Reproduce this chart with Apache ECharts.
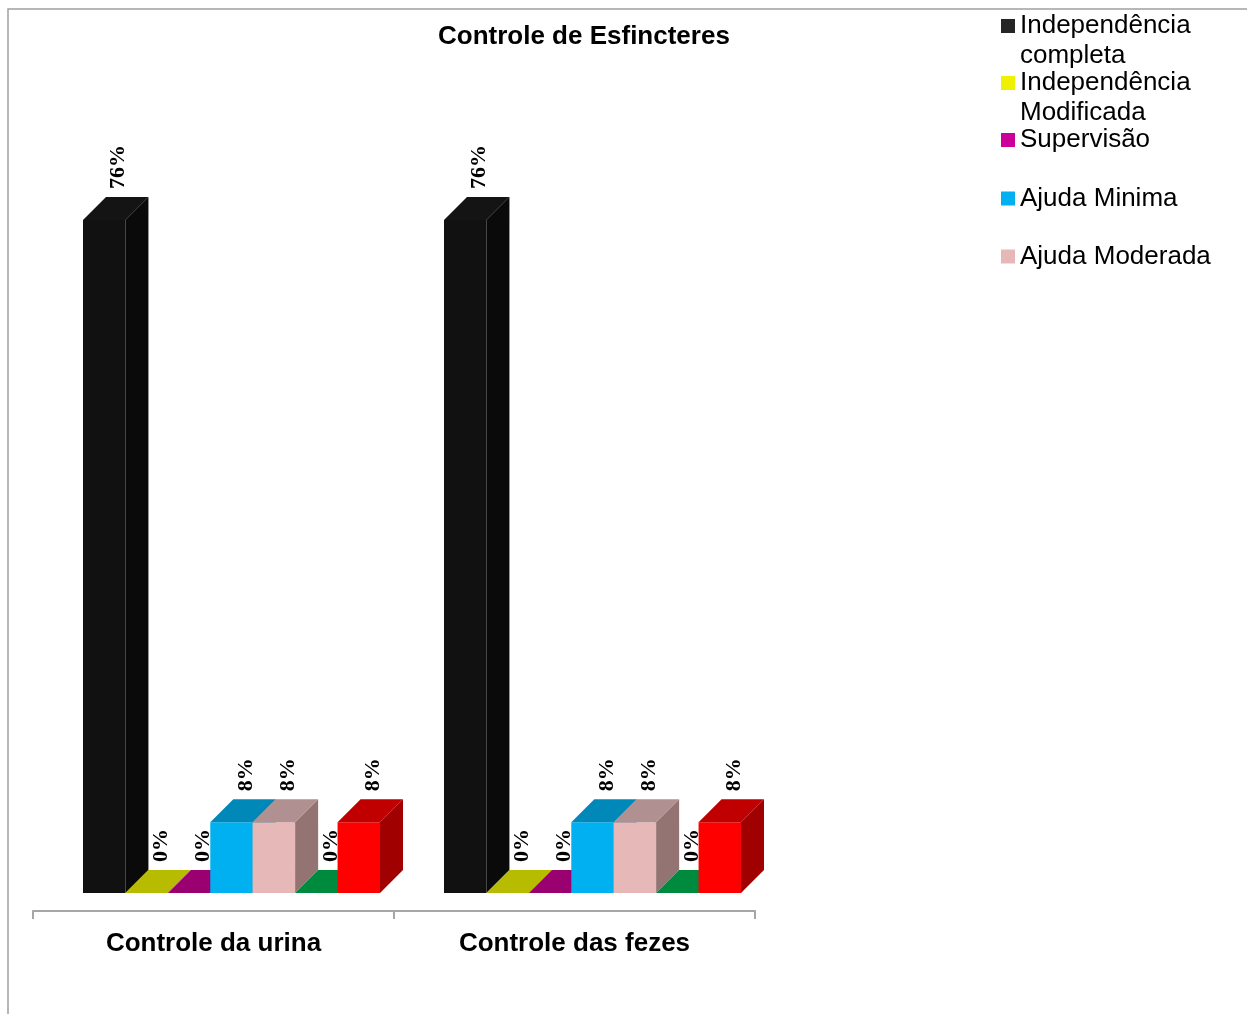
<!DOCTYPE html>
<html>
<head>
<meta charset="utf-8">
<script src="https://cdn.jsdelivr.net/npm/echarts@6/dist/echarts.min.js"></script>
<style>html,body{margin:0;padding:0;background:#fff}#c{width:1247px;height:1014px}</style>
</head>
<body>
<div id="c"></div>
<script>
// ---- data ----
const categories = ['Controle da urina', 'Controle das fezes'];
const seriesNames = ['Independência completa', 'Independência Modificada', 'Supervisão', 'Ajuda Minima', 'Ajuda Moderada', 'Ajuda Máxima', 'Ajuda Total'];
const indepCompleta = [76, 76];
const indepModificada = [0, 0];
const supervisao = [0, 0];
const ajudaMinima = [8, 8];
const ajudaModerada = [8, 8];
const ajudaMaxima = [0, 0];
const ajudaTotal = [8, 8];
const legendShown = ['Independência completa', 'Independência Modificada', 'Supervisão', 'Ajuda Minima', 'Ajuda Moderada'];

// ---- styles ----
const faceColors = [
  {front: '#111111', top: '#141414', side: '#0a0a0a', legend: '#262626'},
  {front: '#eef200', top: '#b8bc00', side: '#999c00', legend: '#eef200'},
  {front: '#cc0099', top: '#9a0070', side: '#80005f', legend: '#cc0099'},
  {front: '#00b0f0', top: '#0088b8', side: '#00709a', legend: '#00b0f0'},
  {front: '#e6b9b8', top: '#b09090', side: '#937473', legend: '#e6b9b8'},
  {front: '#00b050', top: '#008a3e', side: '#007034', legend: '#00b050'},
  {front: '#ff0000', top: '#c00000', side: '#a00000', legend: '#ff0000'}
];
const allValues = [indepCompleta, indepModificada, supervisao, ajudaMinima, ajudaModerada, ajudaMaxima, ajudaTotal];
const N = allValues.length;
const GROUP_RATIO = 297 / 361;
const SHIFT_RATIO = 18 / 361;
const DEPTH_RATIO = 23 / 361;

function makeRender(si) {
  const c = faceColors[si];
  return function (params, api) {
    const cat = api.value(0), v = api.value(1);
    const base = api.coord([cat, 0]);
    const topPt = api.coord([cat, v]);
    const band = api.size([1, 0])[0];
    const w = band * GROUP_RATIO / N;
    const shift = band * SHIFT_RATIO;
    const d = band * DEPTH_RATIO;
    const x0 = base[0] - (w * N) / 2 + si * w + shift;
    const x1 = x0 + w;
    const yb = base[1] - shift;
    const yt = topPt[1] - shift;
    const children = [];
    if (yb - yt > 0.1) {
      children.push({type: 'rect', shape: {x: x0, y: yt, width: w, height: yb - yt}, style: {fill: c.front}});
      children.push({type: 'polygon', shape: {points: [[x1, yt], [x1 + d, yt - d], [x1 + d, yb - d], [x1, yb]]}, style: {fill: c.side}});
    }
    children.push({type: 'polygon', shape: {points: [[x0, yt], [x1, yt], [x1 + d, yt - d], [x0 + d, yt - d]]}, style: {fill: c.top}});
    children.push({
      type: 'text', x: x0 + w / 2 + d / 2 + 3, y: yt - d - 8, rotation: Math.PI / 2,
      style: {text: v + '%', align: 'left', verticalAlign: 'middle', fill: '#000',
        fontFamily: '"Liberation Serif", "Times New Roman", serif', fontWeight: 'bold', fontSize: 22}
    });
    return {type: 'group', children: children};
  };
}

const series = allValues.map((vals, si) => ({
  name: seriesNames[si],
  type: 'custom',
  renderItem: makeRender(si),
  itemStyle: {color: faceColors[si].legend},
  encode: {x: 0, y: 1},
  data: vals.map((v, i) => [i, v]),
  clip: false
}));

const legendTops = [26, 83, 140, 198.5, 256.5];
const legends = legendShown.map((name, i) => {
  const twoLine = name.indexOf('Independência') === 0;
  return {
    data: [name],
    orient: 'vertical',
    left: 1001,
    top: twoLine ? legendTops[i] - 45 : legendTops[i] - 15,
    padding: 0,
    itemWidth: 14,
    itemHeight: 14,
    itemGap: 0,
    icon: 'rect',
    selectedMode: false,
    formatter: n => n.indexOf('Independência ') === 0 ? '\n' + n.replace('Independência ', 'Independência\n') : n,
    textStyle: {
      fontFamily: '"Liberation Sans", Arial, sans-serif', fontSize: 26, color: '#000',
      lineHeight: 30
    }
  };
});

const chart = echarts.init(document.getElementById('c'));
chart.setOption({
  animation: false,
  backgroundColor: '#fff',
  title: {
    text: 'Controle de Esfincteres', left: 433, top: 19,
    textStyle: {fontFamily: '"Liberation Sans", Arial, sans-serif', fontWeight: 'bold', fontSize: 26, color: '#000'}
  },
  legend: legends,
  graphic: [{
    type: 'rect', shape: {x: 8, y: 9, width: 1400, height: 1200},
    style: {fill: 'none', stroke: '#a0a0a0', lineWidth: 1.5}, silent: true
  }],
  grid: {left: 33, right: 492, top: 202.6, bottom: 103},
  xAxis: {
    type: 'category', data: categories,
    axisLine: {show: true, lineStyle: {color: '#a6a6a6', width: 2}},
    axisTick: {show: true, length: 8, lineStyle: {color: '#a6a6a6', width: 2}},
    axisLabel: {margin: 20, color: '#000', fontSize: 26, fontWeight: 'bold', fontFamily: '"Liberation Sans", Arial, sans-serif'},
    splitLine: {show: false}
  },
  yAxis: {type: 'value', min: 0, max: 80, show: false, splitLine: {show: false}},
  series: series
});
</script>
</body>
</html>
